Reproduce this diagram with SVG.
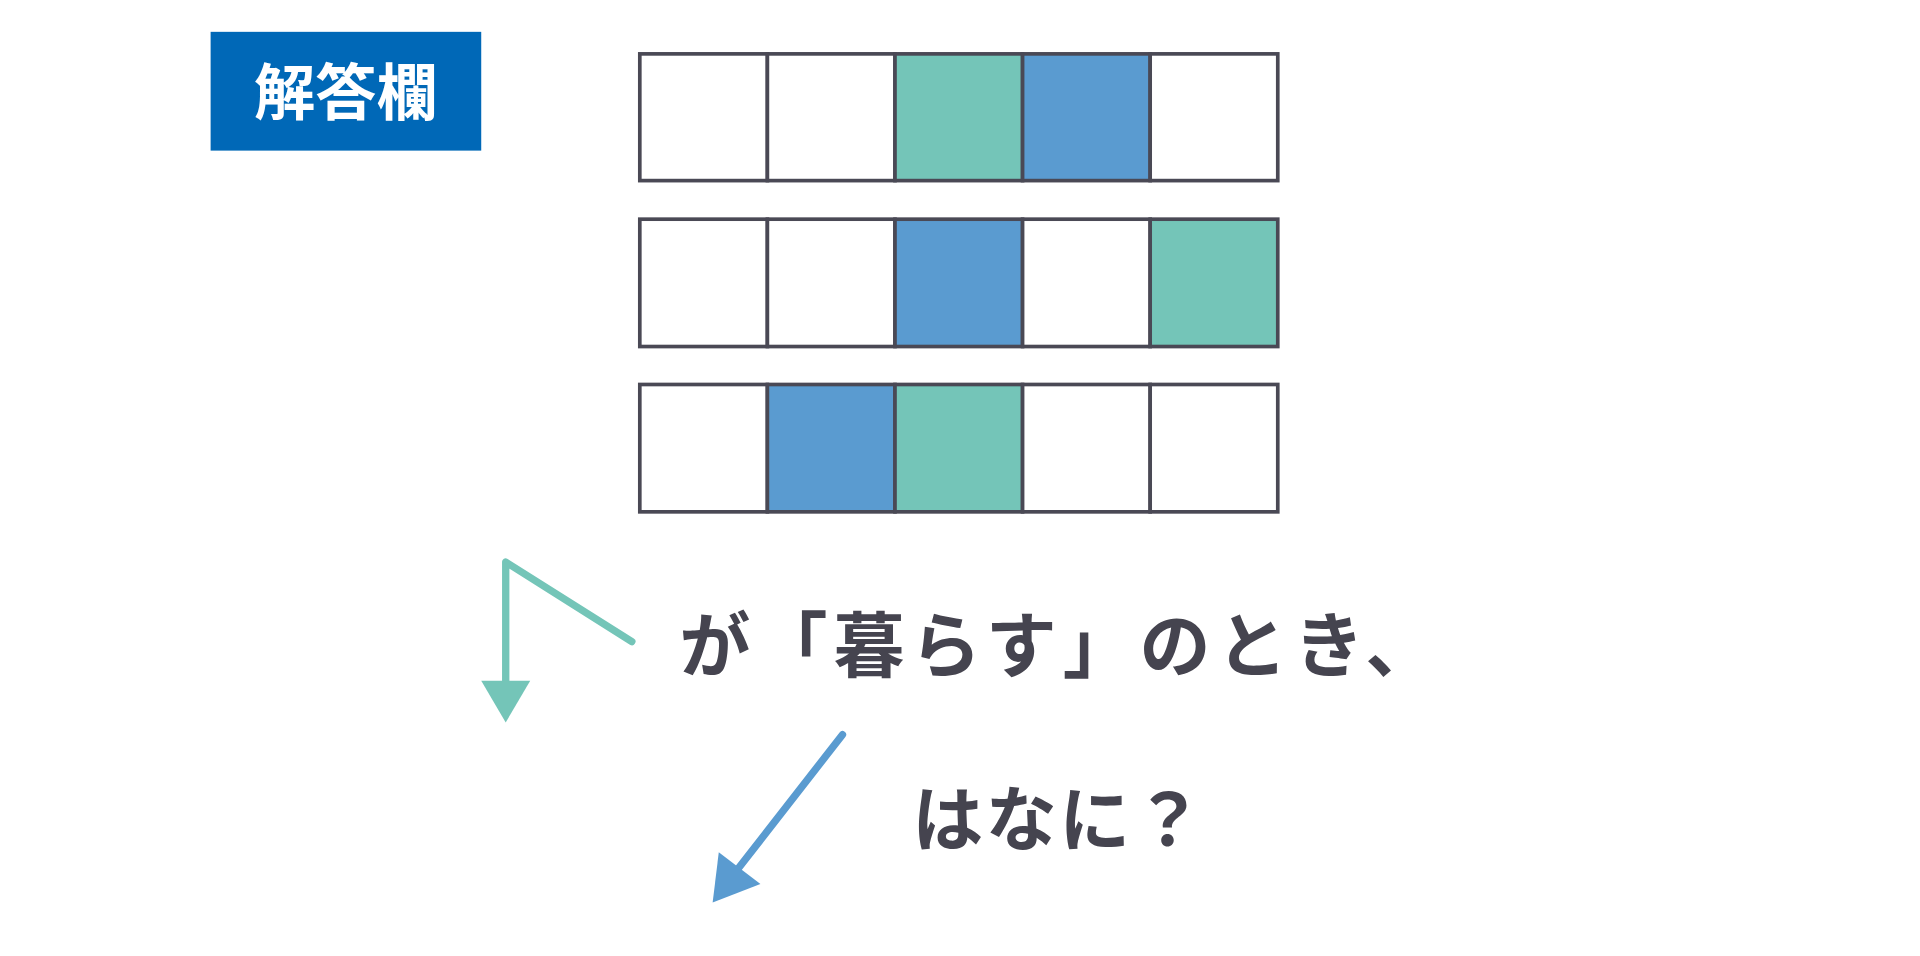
<svg xmlns="http://www.w3.org/2000/svg" width="1920" height="956" viewBox="0 0 1920 956">
<style>
.c{stroke:#4a4955;stroke-width:3;}
.w{fill:#fff}.t{fill:#74c5b8}.b{fill:#5a9bd0}
.txt{font-family:"Noto Sans CJK JP",sans-serif;font-weight:bold;fill:#45444f;font-size:58px}
</style>
<rect width="1920" height="956" fill="#fff"/>
<g transform="scale(1.2245)">
<g id="label"><rect x="172" y="26" width="221" height="97" fill="#0068b7"/><text x="282.5" y="94" text-anchor="middle" font-family="Noto Sans CJK JP,sans-serif" font-weight="bold" font-size="50" fill="#fff">解答欄</text></g>
<g id="row1">
<rect class="c w" x="522.5" y="44" width="104.2" height="103.5"/><rect class="c w" x="626.7" y="44" width="104.2" height="103.5"/><rect class="c t" x="730.9" y="44" width="104.2" height="103.5"/><rect class="c b" x="835.1" y="44" width="104.2" height="103.5"/><rect class="c w" x="939.3" y="44" width="104.2" height="103.5"/></g>
<g id="row2">
<rect class="c w" x="522.5" y="179" width="104.2" height="104"/><rect class="c w" x="626.7" y="179" width="104.2" height="104"/><rect class="c b" x="730.9" y="179" width="104.2" height="104"/><rect class="c w" x="835.1" y="179" width="104.2" height="104"/><rect class="c t" x="939.3" y="179" width="104.2" height="104"/></g>
<g id="row3">
<rect class="c w" x="522.5" y="314" width="104.2" height="104"/><rect class="c b" x="626.7" y="314" width="104.2" height="104"/><rect class="c t" x="730.9" y="314" width="104.2" height="104"/><rect class="c w" x="835.1" y="314" width="104.2" height="104"/><rect class="c w" x="939.3" y="314" width="104.2" height="104"/></g>
<g id="connectors">
<polyline points="516,524 413,459 413,558" fill="none" stroke="#74c5b8" stroke-width="6" stroke-linecap="round" stroke-linejoin="round"/>
<polygon points="393,556 433,556 413,590" fill="#74c5b8"/>
<line x1="688" y1="600" x2="600" y2="713" stroke="#5a9bd0" stroke-width="6" stroke-linecap="round"/>
<polygon points="587,696 621,722 582,737" fill="#5a9bd0"/>
</g>
<g id="text1"><text class="txt" x="555" y="548" textLength="618" lengthAdjust="spacing">が「暮らす」のとき、</text></g>
<g id="text2"><text class="txt" x="745" y="690" textLength="238" lengthAdjust="spacing">はなに？</text></g>
</g>
</svg>
